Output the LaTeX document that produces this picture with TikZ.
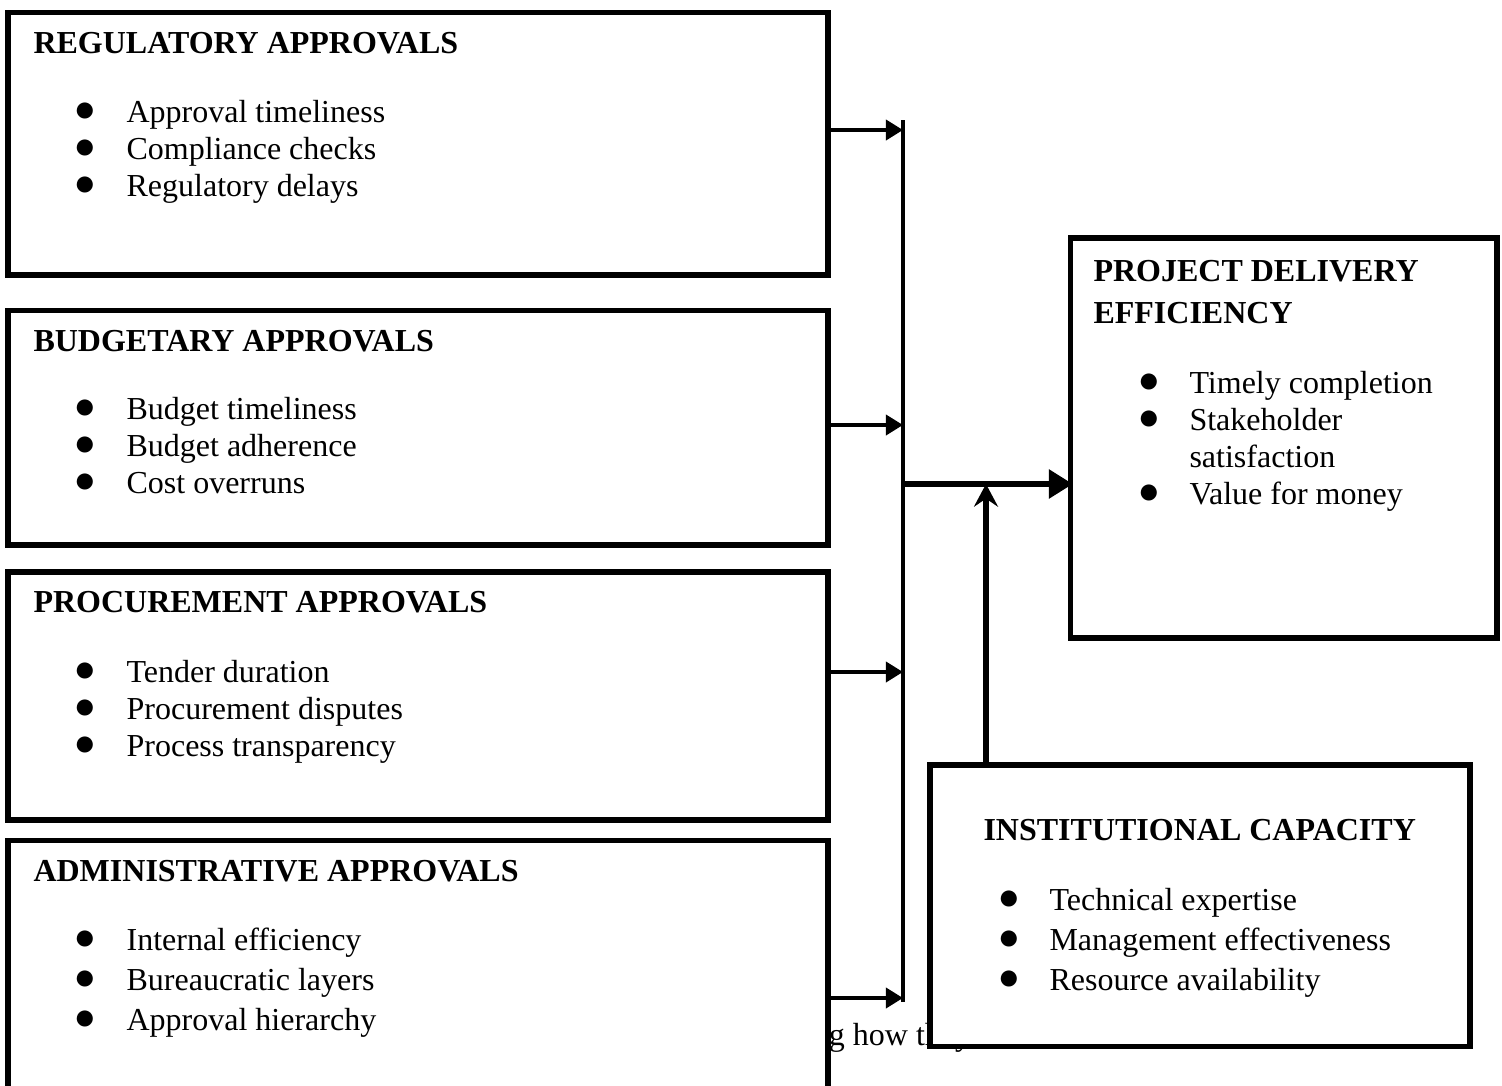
\documentclass[tikz,border=0pt]{standalone}
\usepackage{fontspec}
\setmainfont{Liberation Serif}
\usetikzlibrary{arrows.meta}

% round list mark
\newcommand{\dotmark}{\raisebox{0.2pt}{\fontsize{14}{14}\selectfont ●}}

\begin{document}
\begin{tikzpicture}[x=0.375pt, y=-0.375pt, font=\fontsize{12}{13.9}\selectfont]
 % --- styles ---
 \tikzset{
    box/.style={
        rectangle,
        draw,
        line width=1.9pt,
        fill=white,
        inner sep=0pt
    },
    boxtitle/.style={
        anchor=base west,
        inner sep=0pt,
        font=\fontsize{12}{13.9}\selectfont\bfseries
    },
    items/.style={
        anchor=base west,
        inner sep=0pt
    },
    bus/.style={line width=1.3pt},
    link/.style={line width=1.4pt, -{Triangle[length=6.4pt, width=7.5pt]}},
    mainlink/.style={line width=2.2pt, -{Triangle[length=9pt, width=10.5pt]}},
    uplink/.style={line width=2pt, -{Stealth[length=8.5pt, width=9pt, inset=3pt]}}
 }

 \useasboundingbox (0,0) rectangle (1502,1086);

 % --- stray caption line (mostly hidden behind the boxes) ---
 \node[items] (note) at (736,1045) {showing how they};

 % --- approval boxes (left column) ---
 \node[box, minimum width=307.5pt, minimum height=98.6pt] (Reg) at (418,143.5) {};
 \node[boxtitle] (RegTitle) at (33,53) {REGULATORY APPROVALS};
 \node[items] (RegItems) at (73,122) {\begin{tabular}[t]{@{}p{19.9pt}@{}l@{}}
    \dotmark & Approval timeliness\\
    \dotmark & Compliance checks\\
    \dotmark & Regulatory delays
 \end{tabular}};

 \node[box, minimum width=307.5pt, minimum height=88.1pt] (Bud) at (418,427.5) {};
 \node[boxtitle] (BudTitle) at (33,351) {BUDGETARY APPROVALS};
 \node[items] (BudItems) at (73,419) {\begin{tabular}[t]{@{}p{19.9pt}@{}l@{}}
    \dotmark & Budget timeliness\\
    \dotmark & Budget adherence\\
    \dotmark & Cost overruns
 \end{tabular}};

 \node[box, minimum width=307.5pt, minimum height=93pt] (Proc) at (418,696) {};
 \node[boxtitle] (ProcTitle) at (33,612) {PROCUREMENT APPROVALS};
 \node[items] (ProcItems) at (73,682) {\begin{tabular}[t]{@{}p{19.9pt}@{}l@{}}
    \dotmark & Tender duration\\
    \dotmark & Procurement disputes\\
    \dotmark & Process transparency
 \end{tabular}};

 \node[box, minimum width=307.5pt, minimum height=101pt] (Adm) at (418,975) {};
 \node[boxtitle] (AdmTitle) at (33,881) {ADMINISTRATIVE APPROVALS};
 \node[items] (AdmItems) at (73,950) {\begin{tabular}[t]{@{}p{19.9pt}@{}l@{}}
    \dotmark & Internal efficiency\\[1.1pt]
    \dotmark & Bureaucratic layers\\[1.1pt]
    \dotmark & Approval hierarchy
 \end{tabular}};

 % --- outcome box ---
 \node[box, minimum width=160.1pt, minimum height=150pt] (Proj) at (1283.5,438) {};
 \node[boxtitle] (ProjTitle) at (1093,281) {\begin{tabular}[t]{@{}l@{}}
    PROJECT DELIVERY\\[1.85pt]
    EFFICIENCY
 \end{tabular}};
 \node[items] (ProjItems) at (1137,393) {\begin{tabular}[t]{@{}p{19.5pt}@{}l@{}}
    \dotmark & Timely completion\\
    \dotmark & Stakeholder\\
             & satisfaction\\
    \dotmark & Value for money
 \end{tabular}};

 % --- moderating box ---
 \node[box, minimum width=202.5pt, minimum height=105.4pt] (Inst) at (1200,905.5) {};
 \node[boxtitle] (InstTitle) at (983,840) {INSTITUTIONAL CAPACITY};
 \node[items] (InstItems) at (997,910) {\begin{tabular}[t]{@{}p{19.5pt}@{}l@{}}
    \dotmark & Technical expertise\\[1.1pt]
    \dotmark & Management effectiveness\\[1.1pt]
    \dotmark & Resource availability
 \end{tabular}};

 % --- connectors ---
 \coordinate (BusTop) at (903,120);
 \coordinate (BusBot) at (903,1002);
 \coordinate (Bus1) at (903,130);
 \coordinate (Bus2) at (903,425);
 \coordinate (Bus3) at (903,672);
 \coordinate (Bus4) at (903,998);
 \coordinate (BusMid) at (903,484);
 \coordinate (Join) at (986,484);

 \draw[bus] (BusTop) -- (BusBot);
 \draw[link] (Reg.east |- Bus1) -- (Bus1);
 \draw[link] (Bud.east |- Bus2) -- (Bus2);
 \draw[link] (Proc.east |- Bus3) -- (Bus3);
 \draw[link] (Adm.east |- Bus4) -- (Bus4);

 \draw[mainlink] (BusMid) -- ([xshift=2pt]Proj.west |- BusMid);
 \draw[uplink] (Inst.north -| Join) -- (Join);
\end{tikzpicture}
\end{document}
